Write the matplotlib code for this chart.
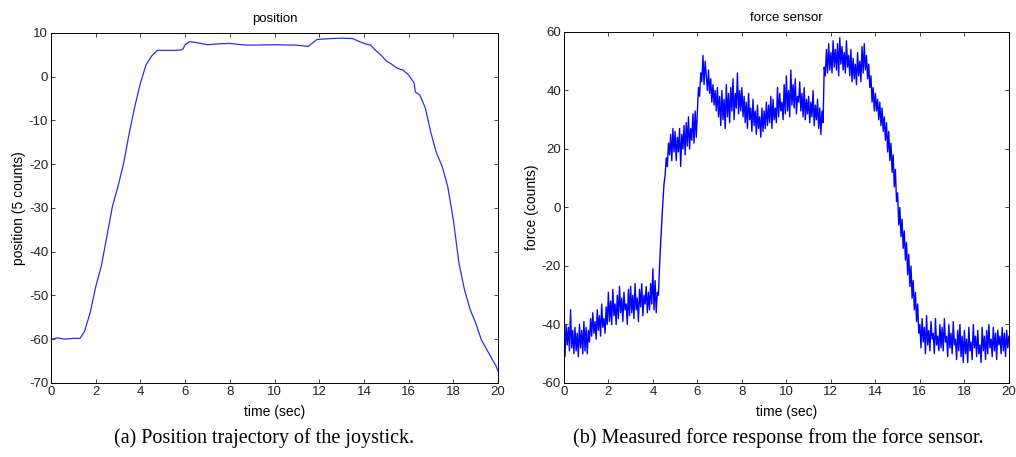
#Import des librairies

import numpy
import matplotlib
matplotlib.use("Agg")
import matplotlib.pyplot as plt

#Données

#trajectoire de position (temps en s, position en 5 counts)
temps_pos = [0, 0.3, 0.6, 1.0, 1.3, 1.5, 1.75, 2.0, 2.25, 2.5, 2.75, 3.0, 3.25, 3.5,
	3.75, 4.0, 4.25, 4.5, 4.75, 5.0, 5.5, 5.8, 5.9, 6.0, 6.2, 6.5, 7.0, 7.5, 8.0, 8.5,
	9.0, 10.0, 11.0, 11.5, 11.7, 11.9, 12.5, 13.0, 13.5, 13.8, 14.0, 14.3, 14.5, 14.75,
	15.0, 15.25, 15.5, 15.75, 16.0, 16.25, 16.3, 16.5, 16.75, 17.0, 17.25, 17.5, 17.75,
	18.0, 18.25, 18.5, 18.75, 19.0, 19.25, 19.5, 19.75, 19.9, 20.0]
position = [-60, -59.7, -60, -59.8, -59.8, -58.2, -54, -48, -43.3, -36.5, -29.6, -25, -19.8, -12.9,
	-6.8, -1.5, 2.7, 4.7, 6, 6, 6, 6.1, 6.3, 7.3, 8, 7.8, 7.3, 7.5, 7.6, 7.3,
	7.2, 7.3, 7.2, 6.9, 7.7, 8.5, 8.7, 8.8, 8.7, 8, 7.6, 7.2, 6.1, 5,
	3.6, 2.8, 1.9, 1.5, 0.4, -1.5, -3.5, -4.2, -7.2, -12.9, -17.5, -20.5, -25.1,
	-32.7, -42.6, -48.7, -53.2, -56.3, -60.1, -62.4, -64.7, -66, -67.3]

#capteur d'effort, un point toutes les 0.05 s (une ligne = une seconde)
force = [
	-36, -51, -40, -47, -41, -49, -35, -48, -42, -50, -41, -49, -43, -51, -40, -48, -42, -50, -39, -49,
	-41, -50, -42, -46, -38, -44, -36, -43, -39, -45, -35, -42, -37, -44, -33, -41, -38, -43, -34, -40,
	-29, -39, -32, -40, -28, -37, -33, -40, -30, -38, -27, -36, -31, -39, -29, -35, -33, -40, -28, -37,
	-27, -36, -30, -38, -26, -35, -31, -39, -28, -34, -26, -37, -30, -33, -27, -36, -29, -35, -26, -33,
	-21, -35, -25, -36, -29, -30, -20, -12, -5, 2, 8, 11, 17, 14, 22, 18, 25, 16, 27, 19,
	26, 16, 24, 19, 27, 14, 25, 20, 28, 18, 29, 21, 31, 20, 27, 23, 32, 22, 33, 24,
	33, 41, 38, 46, 43, 52, 42, 50, 45, 40, 47, 39, 44, 36, 42, 35, 40, 33, 41, 31,
	38, 28, 40, 30, 37, 27, 42, 31, 39, 29, 41, 33, 44, 30, 39, 34, 46, 32, 40, 33,
	41, 31, 38, 29, 36, 27, 39, 30, 34, 26, 37, 28, 33, 25, 35, 27, 31, 24, 34, 26,
	33, 27, 36, 28, 35, 29, 38, 27, 37, 30, 34, 29, 41, 31, 39, 33, 36, 30, 42, 32,
	45, 33, 40, 31, 47, 35, 42, 34, 44, 32, 38, 36, 43, 33, 39, 31, 41, 30, 37, 32,
	38, 29, 36, 31, 40, 28, 35, 30, 37, 27, 34, 25, 33, 29, 48, 45, 54, 46, 56, 47,
	53, 46, 57, 48, 54, 47, 56, 45, 58, 49, 55, 47, 53, 46, 57, 48, 52, 45, 54, 43,
	51, 44, 49, 42, 53, 45, 50, 43, 55, 46, 56, 47, 52, 44, 49, 41, 45, 36, 41, 33,
	39, 33, 37, 30, 36, 28, 34, 26, 31, 23, 29, 19, 26, 16, 22, 12, 18, 7, 13, 2,
	5, -6, 0, -10, -4, -14, -8, -18, -12, -23, -16, -27, -20, -31, -25, -35, -29, -39, -33, -43,
	-40, -48, -38, -46, -41, -50, -37, -47, -42, -49, -39, -45, -43, -50, -38, -47, -44, -49, -40, -48,
	-41, -49, -38, -46, -44, -51, -40, -48, -43, -50, -39, -47, -45, -52, -42, -49, -40, -51, -44, -53,
	-42, -50, -45, -53, -41, -49, -46, -52, -40, -48, -44, -51, -42, -50, -47, -53, -41, -49, -44, -52,
	-42, -50, -40, -48, -45, -51, -41, -49, -43, -52, -42, -47, -44, -50, -41, -49, -43, -51, -42, -48,
	-44]
temps_force = numpy.linspace(0, 20, len(force))

xticks = [0, 2, 4, 6, 8, 10, 12, 14, 16, 18, 20]
yticks_pos = [-70, -60, -50, -40, -30, -20, -10, 0, 10]
yticks_force = [-60, -40, -20, 0, 20, 40, 60]

plt.rcParams['font.family'] = ['Liberation Sans', 'DejaVu Sans']
plt.rcParams['font.size'] = 9
plt.rcParams['axes.unicode_minus'] = False

def MiseEnForme(axes, titre, ylabel, yticks):
	#style matlab : graduations vers l'intérieur sur les quatre côtés
	axes.set_xlim(0, 20)
	axes.set_ylim(yticks[0], yticks[-1])
	axes.set_xticks(xticks)
	axes.set_yticks(yticks)
	axes.tick_params(direction='in', top=True, right=True, length=3, width=0.6,
		labelsize=9.5, pad=2, colors='#222222')
	for s in axes.spines.values():
		s.set_linewidth(0.7)
	axes.set_title(titre, fontsize=9.5, pad=8)
	axes.set_xlabel("time (sec)", fontsize=10, labelpad=5)
	axes.set_ylabel(ylabel, fontsize=10, labelpad=2)

fig = plt.figure(figsize=(10.16, 4.57), dpi=100)

#premier graphe : position
ax1 = fig.add_axes([0.0502, 0.162, 0.440, 0.766])
ax1.plot(temps_pos, position, color='#2b2bff', linewidth=0.9)
MiseEnForme(ax1, "position", "position (5 counts)", yticks_pos)

#deuxième graphe : force
ax2 = fig.add_axes([0.555, 0.162, 0.438, 0.768])
ax2.plot(temps_force, force, color='#0000ff', linewidth=1.0)
MiseEnForme(ax2, "force sensor", "force (counts)", yticks_force)

#légendes sous les figures
fig.text(0.26, 0.042, "(a) Position trajectory of the joystick.", ha='center', va='center',
	family='Liberation Serif', fontsize=14.5)
fig.text(0.766, 0.042, "(b) Measured force response from the force sensor.", ha='center', va='center',
	family='Liberation Serif', fontsize=14.5)

fig.savefig("out.png", dpi=100)
